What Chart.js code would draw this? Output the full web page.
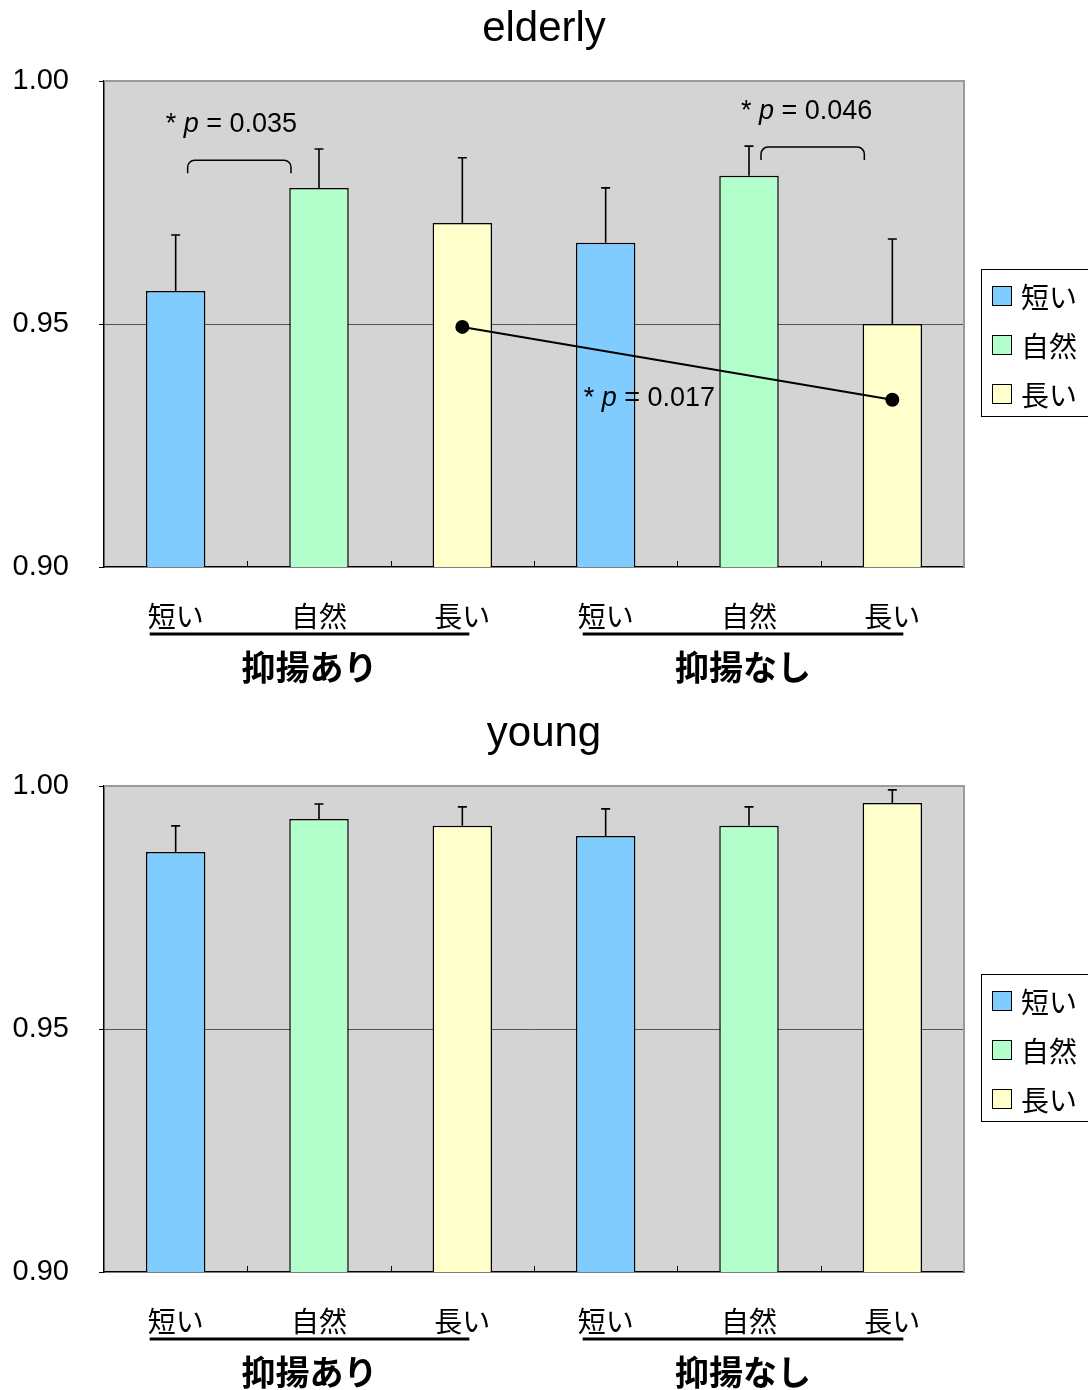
<!DOCTYPE html>
<html lang="ja">
<head>
<meta charset="utf-8">
<title>elderly / young</title>
<script src="https://cdn.jsdelivr.net/npm/chart.js@4.4.1/dist/chart.umd.min.js"></script>
<style>
  html, body { margin: 0; padding: 0; background: #fff; }
  canvas { display: block; }
</style>
</head>
<body>
<canvas id="elderlyChart" width="1088" height="705"></canvas>
<canvas id="youngChart" width="1088" height="685"></canvas>
<script>
// 発話条件と抑揚グループ
const categories = ['短い', '自然', '長い', '短い', '自然', '長い'];
const groups = ['抑揚あり', '抑揚なし'];
const legendLabels = ['短い', '自然', '長い'];
const yTicks = [0.90, 0.95, 1.00];

// 平均値と誤差棒の上端
const elderlyMeans = [0.9568, 0.9780, 0.9708, 0.9667, 0.9805, 0.9500];
const elderlyUpper = [0.9683, 0.9860, 0.9842, 0.9780, 0.9866, 0.9675];
const elderlyTrend = [null, null, 0.9494, null, null, 0.9344];
const elderlyPValues = ['0.035', '0.046', '0.017'];

const youngMeans = [0.9864, 0.9932, 0.9918, 0.9897, 0.9918, 0.9965];
const youngUpper = [0.9918, 0.9963, 0.9957, 0.9953, 0.9957, 0.9992];

const barColors = ['#80ccff', '#b3ffcc', '#ffffcc', '#80ccff', '#b3ffcc', '#ffffcc'];
const LATIN = '"Liberation Sans", Arial, sans-serif';
const CJK = '"Noto Sans CJK JP", sans-serif';
const PLOT_BOTTOM = 567;

// 灰色の背景・枠・内向き目盛り
const framePlugin = {
    id: 'frame',
    beforeDraw(chart) {
        const { ctx, chartArea: a } = chart;
        ctx.save();
        ctx.fillStyle = '#d4d4d4';
        ctx.fillRect(a.left, a.top, a.right - a.left, a.bottom - a.top);
        ctx.restore();
    },
    beforeDatasetsDraw(chart) {
        const { ctx, chartArea: a, scales } = chart;
        ctx.save();
        ctx.strokeStyle = '#9a9a9a';
        ctx.lineWidth = 2;
        ctx.beginPath();
        ctx.moveTo(a.left, a.top);
        ctx.lineTo(a.right, a.top);
        ctx.lineTo(a.right, a.bottom);
        ctx.stroke();
        ctx.strokeStyle = '#000';
        ctx.lineWidth = 1;
        for (let i = 0; i < categories.length - 1; i++) {
            const x = Math.round((scales.x.getPixelForValue(i) + scales.x.getPixelForValue(i + 1)) / 2) + 0.5;
            ctx.beginPath();
            ctx.moveTo(x, a.bottom);
            ctx.lineTo(x, a.bottom - 6);
            ctx.stroke();
        }
        ctx.restore();
    }
};

// 上向きの誤差棒
const errorBarPlugin = {
    id: 'errorBars',
    afterDatasetsDraw(chart) {
        const { ctx, scales } = chart;
        chart.data.datasets.forEach((ds, di) => {
            if (!ds.upper) return;
            const meta = chart.getDatasetMeta(di);
            ctx.save();
            ctx.strokeStyle = '#000';
            ctx.lineWidth = 1.6;
            meta.data.forEach((bar, i) => {
                const x = bar.x;
                const yTop = scales.y.getPixelForValue(ds.upper[i]);
                ctx.beginPath();
                ctx.moveTo(x, bar.y);
                ctx.lineTo(x, yTop);
                ctx.moveTo(x - 4.5, yTop);
                ctx.lineTo(x + 4.5, yTop);
                ctx.stroke();
            });
            ctx.restore();
        });
    }
};

// 「* p = …」の注記と括弧
function drawPText(ctx, text, x, y) {
    const parts = [['* ', 'normal'], ['p', 'italic'], [' = ' + text, 'normal']];
    ctx.textBaseline = 'middle';
    ctx.textAlign = 'left';
    ctx.fillStyle = '#000';
    parts.forEach(([s, style]) => {
        ctx.font = style + ' 27px ' + LATIN;
        ctx.fillText(s, x, y);
        x += ctx.measureText(s).width;
    });
}

function drawBracket(ctx, x1, x2, y) {
    const r = 7, h = 13;
    ctx.beginPath();
    ctx.moveTo(x1, y + h);
    ctx.arcTo(x1, y, x1 + r, y, r);
    ctx.lineTo(x2 - r, y);
    ctx.arcTo(x2, y, x2, y + h, r);
    ctx.lineTo(x2, y + h);
    ctx.stroke();
}

const notePlugin = {
    id: 'notes',
    afterDraw(chart) {
        const notes = chart.config.options.notes;
        if (!notes) return;
        const { ctx, scales } = chart;
        ctx.save();
        ctx.strokeStyle = '#000';
        ctx.lineWidth = 1.5;
        notes.brackets.forEach(b => {
            drawBracket(ctx,
                scales.x.getPixelForValue(b.from) + 12,
                scales.x.getPixelForValue(b.to) - 28,
                scales.y.getPixelForValue(b.y));
        });
        notes.labels.forEach(l => {
            drawPText(ctx, l.text, scales.x.getPixelForValue(l.at) + l.dx, scales.y.getPixelForValue(l.y));
        });
        ctx.restore();
    }
};

// 群ラベル（下線つき）と凡例
const groupLegendPlugin = {
    id: 'groupLegend',
    afterDraw(chart) {
        const { ctx, chartArea: a, scales } = chart;
        ctx.save();
        groups.forEach((g, gi) => {
            const x1 = scales.x.getPixelForValue(gi * 3) - 26 + gi * 3;
            const x2 = scales.x.getPixelForValue(gi * 3 + 2) + 7 + gi * 4;
            ctx.fillStyle = '#000';
            ctx.fillRect(x1, a.bottom + 65.5, x2 - x1, 3);
            ctx.font = 'bold 34px ' + CJK;
            ctx.textAlign = 'center';
            ctx.textBaseline = 'middle';
            ctx.fillText(g, (x1 + x2) / 2, a.bottom + 100);
        });

        const lx = a.right + 17, ly = a.top + 188;
        ctx.fillStyle = '#fff';
        ctx.fillRect(lx, ly, 130, 147);
        ctx.strokeStyle = '#000';
        ctx.lineWidth = 1;
        ctx.strokeRect(lx + 0.5, ly + 0.5, 130, 147);
        legendLabels.forEach((label, i) => {
            const cy = ly + 27 + i * 49;
            ctx.fillStyle = barColors[i];
            ctx.fillRect(lx + 11, cy - 10, 20, 20);
            ctx.strokeRect(lx + 11.5, cy - 9.5, 19, 19);
            ctx.fillStyle = '#000';
            ctx.font = '28px ' + CJK;
            ctx.textAlign = 'left';
            ctx.textBaseline = 'middle';
            ctx.fillText(label, lx + 40, cy + 1);
        });
        ctx.restore();
    }
};

function makeChart(canvasId, title, means, upper, trend, notes) {
    const canvas = document.getElementById(canvasId);
    const datasets = [{
        type: 'bar',
        data: means,
        upper: upper,
        backgroundColor: barColors,
        borderColor: '#000',
        borderWidth: 1.5,
        borderSkipped: 'bottom',
        categoryPercentage: 1,
        barPercentage: 0.415,
        order: 1
    }];
    if (trend) {
        datasets.push({
            type: 'line',
            data: trend,
            spanGaps: true,
            borderColor: '#000',
            borderWidth: 2,
            pointRadius: 6,
            pointBackgroundColor: '#000',
            pointBorderColor: '#000',
            order: 0
        });
    }
    return new Chart(canvas, {
        data: { labels: categories, datasets: datasets },
        options: {
            responsive: false,
            animation: false,
            events: [],
            notes: notes,
            plugins: {
                legend: { display: false },
                tooltip: { enabled: false },
                title: {
                    display: true,
                    text: title,
                    color: '#000',
                    font: { family: LATIN, size: 42, weight: 'normal' },
                    padding: { top: 4, bottom: 26.6 }
                }
            },
            scales: {
                x: {
                    type: 'category',
                    offset: true,
                    grid: { display: false, drawTicks: false },
                    border: { color: '#000', width: 1.5 },
                    ticks: {
                        color: '#000',
                        font: { family: CJK, size: 28 },
                        padding: 33,
                        maxRotation: 0,
                        autoSkip: false
                    },
                    afterFit: scale => { scale.height = canvas.height - PLOT_BOTTOM; }
                },
                y: {
                    min: 0.9,
                    max: 1.0,
                    afterBuildTicks: scale => { scale.ticks = yTicks.map(v => ({ value: v })); },
                    grid: {
                        color: c => (c.tick && Math.abs(c.tick.value - 0.95) < 1e-6) ? '#555' : 'rgba(0,0,0,0)',
                        tickColor: '#000',
                        tickLength: 5,
                        lineWidth: 1
                    },
                    border: { color: '#000', width: 1.5 },
                    ticks: {
                        color: '#000',
                        font: { family: LATIN, size: 29 },
                        padding: 30,
                        callback: v => Number(v).toFixed(2)
                    },
                    afterFit: scale => { scale.width = 104; }
                },
                // 凡例のための右側の空き
                side: {
                    type: 'linear',
                    position: 'right',
                    grid: { display: false },
                    border: { display: false },
                    ticks: { display: false },
                    afterFit: scale => { scale.width = 124; }
                }
            }
        },
        plugins: [framePlugin, errorBarPlugin, notePlugin, groupLegendPlugin]
    });
}

makeChart('elderlyChart', 'elderly', elderlyMeans, elderlyUpper, elderlyTrend, {
    brackets: [
        { from: 0, to: 1, y: 0.9837 },
        { from: 4, to: 5, y: 0.9864 }
    ],
    labels: [
        { text: elderlyPValues[0], at: 0, dx: -10, y: 0.9910 },
        { text: elderlyPValues[1], at: 4, dx: -8, y: 0.9938 },
        { text: elderlyPValues[2], at: 3, dx: -22, y: 0.9347 }
    ]
});
makeChart('youngChart', 'young', youngMeans, youngUpper, null, null);
</script>
</body>
</html>
